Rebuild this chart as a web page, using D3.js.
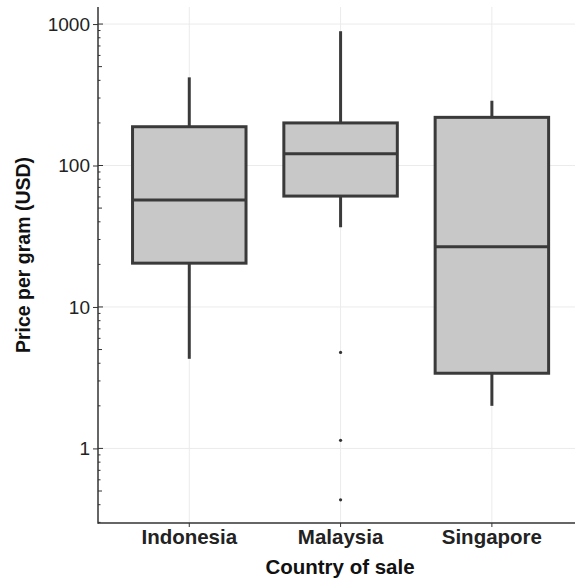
<!DOCTYPE html>
<html>
<head>
<meta charset="utf-8">
<script src="https://cdn.jsdelivr.net/npm/d3@7"></script>
<style>
  body { margin: 0; background: #fff; }
  svg text { font-family: "Liberation Sans", Arial, sans-serif; }
</style>
</head>
<body>
<svg id="chart" width="575" height="579"></svg>
<script>
// data (USD per gram)
const countries = ["Indonesia", "Malaysia", "Singapore"];
const whiskerLow  = [4.3, 36.6, 2.0];
const q1          = [20.4, 60.8, 3.4];
const median      = [57, 121, 26.7];
const q3          = [188, 200, 219];
const whiskerHigh = [420, 890, 287];
const outliers    = [[], [4.77, 1.14, 0.433], []];
const yTicks = [1, 10, 100, 1000];
const yLimits = [0.297, 1320];

const svg = d3.select("#chart");
const plotLeft = 98, plotTop = 7, plotBottom = 523;

const x = d3.scaleBand()
    .domain(countries)
    .range([98.5, 98.5 + 3.2 * 151.3])
    .paddingInner(0)
    .paddingOuter(0.1);

const y = d3.scaleLog()
    .domain(yLimits)
    .range([plotBottom, plotTop]);

const boxW = x.bandwidth() * 0.75;
const dark = "#3a3a3a";

// grid
const grid = svg.append("g");
grid.selectAll(".h").data(yTicks).enter().append("line")
    .attr("x1", plotLeft).attr("x2", 575)
    .attr("y1", d => y(d)).attr("y2", d => y(d))
    .attr("stroke", "#ebebeb").attr("stroke-width", 1);
grid.selectAll(".v").data(countries).enter().append("line")
    .attr("x1", d => x(d) + x.bandwidth() / 2).attr("x2", d => x(d) + x.bandwidth() / 2)
    .attr("y1", plotTop).attr("y2", plotBottom)
    .attr("stroke", "#ebebeb").attr("stroke-width", 1);

// boxes
const rows = countries.map((c, i) => ({
    c: c, lo: whiskerLow[i], q1: q1[i], med: median[i], q3: q3[i], hi: whiskerHigh[i], out: outliers[i]
}));

const g = svg.append("g").selectAll("g").data(rows).enter().append("g")
    .attr("transform", d => `translate(${x(d.c) + x.bandwidth() / 2},0)`);

g.append("line").attr("x1", 0).attr("x2", 0)
    .attr("y1", d => y(d.q3)).attr("y2", d => y(d.hi))
    .attr("stroke", dark).attr("stroke-width", 3);
g.append("line").attr("x1", 0).attr("x2", 0)
    .attr("y1", d => y(d.q1)).attr("y2", d => y(d.lo))
    .attr("stroke", dark).attr("stroke-width", 3);
g.append("rect")
    .attr("x", -boxW / 2).attr("width", boxW)
    .attr("y", d => y(d.q3)).attr("height", d => y(d.q1) - y(d.q3))
    .attr("fill", "#c8c8c8").attr("stroke", dark).attr("stroke-width", 3);
g.append("line").attr("x1", -boxW / 2).attr("x2", boxW / 2)
    .attr("y1", d => y(d.med)).attr("y2", d => y(d.med))
    .attr("stroke", dark).attr("stroke-width", 3);
g.selectAll("circle").data(d => d.out).enter().append("circle")
    .attr("cx", 0).attr("cy", d => y(d)).attr("r", 1.6)
    .attr("fill", "#333");

// y axis
const yAxis = svg.append("g")
    .attr("transform", `translate(${plotLeft},0)`)
    .call(d3.axisLeft(y).tickValues(yTicks).tickFormat(d3.format("d")).tickSize(5).tickPadding(3));
yAxis.select(".domain").remove();
yAxis.selectAll(".tick line").attr("stroke", "#333");
yAxis.selectAll(".tick text").attr("font-size", 19).attr("fill", "#222");

// log ticks inside the axis
const minor = [];
for (let p = -1; p <= 3; p++) {
    for (let k = 1; k <= 9; k++) {
        const v = k * Math.pow(10, p);
        if (v >= yLimits[0] && v <= yLimits[1]) minor.push({ v: v, k: k });
    }
}
svg.append("g").selectAll("line").data(minor).enter().append("line")
    .attr("x1", plotLeft).attr("x2", d => plotLeft + (d.k === 1 ? 5 : d.k === 5 ? 4 : 2.5))
    .attr("y1", d => y(d.v)).attr("y2", d => y(d.v))
    .attr("stroke", "#333").attr("stroke-width", 1);

// x axis
const xAxis = svg.append("g")
    .attr("transform", `translate(0,${plotBottom})`)
    .call(d3.axisBottom(x).tickSize(4).tickPadding(2));
xAxis.select(".domain").remove();
xAxis.selectAll(".tick line").attr("stroke", "#333");
xAxis.selectAll(".tick text").attr("font-size", 20.5).attr("font-weight", "bold").attr("fill", "#222");

// axis lines
svg.append("line").attr("x1", plotLeft).attr("x2", plotLeft).attr("y1", plotTop).attr("y2", plotBottom + 0.75)
    .attr("stroke", "#333").attr("stroke-width", 1.5);
svg.append("line").attr("x1", plotLeft).attr("x2", 575).attr("y1", plotBottom).attr("y2", plotBottom)
    .attr("stroke", "#333").attr("stroke-width", 1.5);

// titles
svg.append("text")
    .attr("x", 340).attr("y", 573.5)
    .attr("text-anchor", "middle")
    .attr("font-size", 20.5).attr("font-weight", "bold").attr("fill", "#111")
    .text("Country of sale");
svg.append("text")
    .attr("transform", "translate(29.5,255) rotate(-90)")
    .attr("text-anchor", "middle")
    .attr("font-size", 19.5).attr("font-weight", "bold").attr("fill", "#111")
    .text("Price per gram (USD)");
</script>
</body>
</html>
